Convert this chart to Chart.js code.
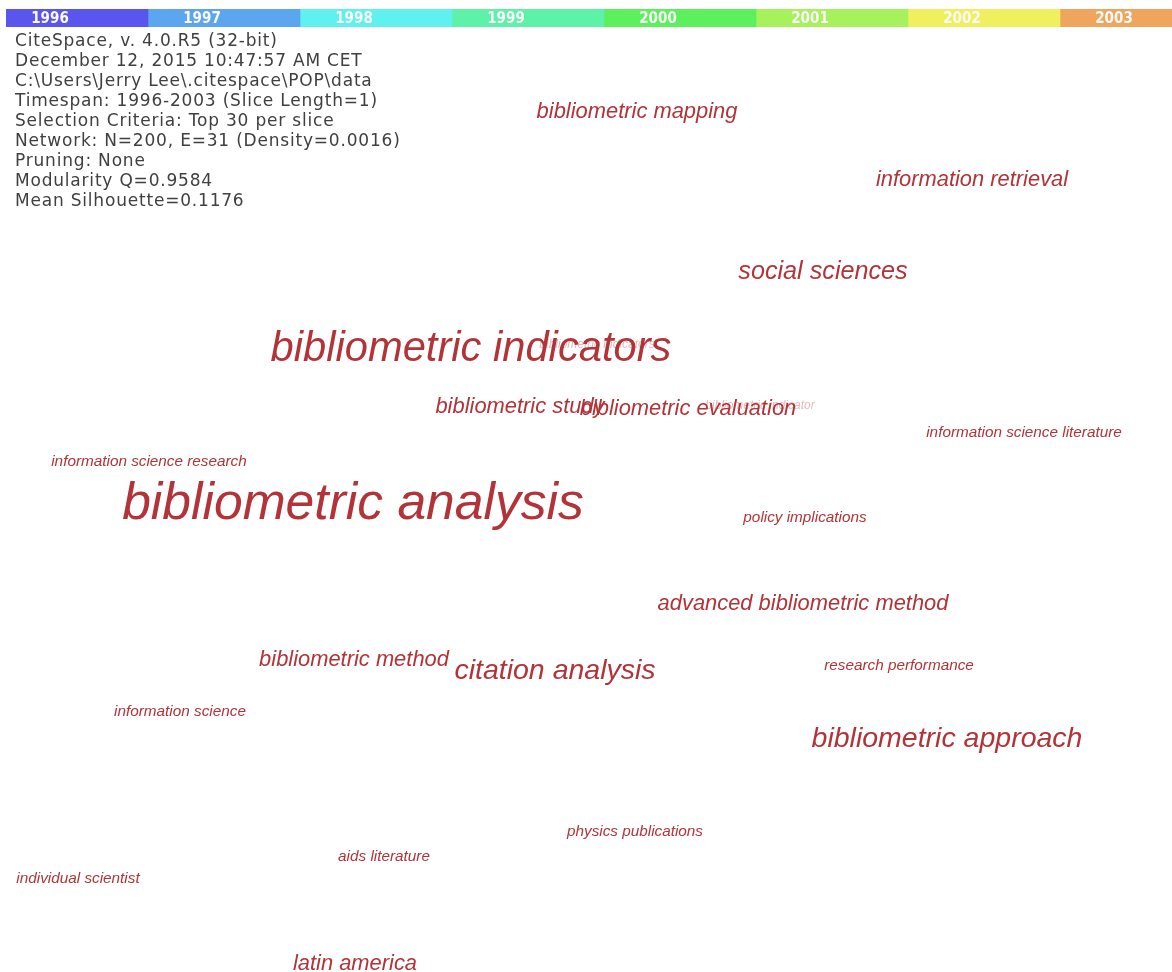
<!DOCTYPE html>
<html lang="en">

<head>
    <meta charset="UTF-8">
    <title>CiteSpace Label View</title>
    <script src="https://cdn.jsdelivr.net/npm/chart.js"></script>
    <style>
        body { margin: 0; background: #fff; }
        #wrap { position: relative; width: 1172px; height: 972px; overflow: hidden; }
        #main { position: absolute; left: 0; top: 0; }
        #years { position: absolute; left: 6px; top: 9px; }
        #info {
            position: absolute; left: 15px; top: 30px;
            font: 17px "DejaVu Sans", sans-serif; line-height: 20px;
            letter-spacing: 0.8px;
            color: #404040; white-space: pre;
        }
    </style>
</head>

<body>
    <div id="wrap">
        <canvas id="main" width="1172" height="972"></canvas>
        <canvas id="years" width="1166" height="18"></canvas>
        <div id="info"></div>
    </div>

    <script>
        // time slices shown in the top strip
        const years = ['1996', '1997', '1998', '1999', '2000', '2001', '2002', '2003'];
        const yearColors = ['#5b55ef', '#5ba6ef', '#5ef1ef', '#5ef1a8', '#5cf15c', '#a6f15c', '#f0f05e', '#f0a55c'];

        const infoLines = [
            'CiteSpace, v. 4.0.R5 (32-bit)',
            'December 12, 2015 10:47:57 AM CET',
            'C:\\Users\\Jerry Lee\\.citespace\\POP\\data',
            'Timespan: 1996-2003 (Slice Length=1)',
            'Selection Criteria: Top 30 per slice',
            'Network: N=200, E=31 (Density=0.0016)',
            'Pruning: None',
            'Modularity Q=0.9584',
            'Mean Silhouette=0.1176'
        ];

        // cluster labels, layout coordinates (x, baseline y) and term frequency
        const terms = [
            'bibliometric analysis', 'bibliometric indicators', 'social sciences', 'bibliometric mapping',
            'information retrieval', 'bibliometric study', 'bibliometric evaluation',
            'information science literature', 'information science research', 'policy implications',
            'advanced bibliometric method', 'bibliometric method', 'citation analysis',
            'research performance', 'information science', 'bibliometric approach',
            'physics publications', 'aids literature', 'individual scientist', 'latin america',
            'bibliometric indicators', 'bibliometric indicator'
        ];
        const termX = [353, 471, 823, 637, 972, 520, 688, 1024, 149, 805, 803, 354, 555, 899, 180, 947, 635, 384, 78, 355, 597, 760];
        const termY = [519, 361, 279, 118, 186, 413, 415, 437, 466, 522, 610, 666, 679, 670, 716, 747, 836, 861, 883, 970, 348, 409];
        const termFreq = [12, 9, 4, 3, 3, 3, 3, 1, 1, 1, 3, 3, 5, 1, 1, 5, 1, 1, 1, 3, 0, 0];

        document.getElementById('info').textContent = infoLines.join('\n');

        const labelColor = 'rgb(178, 52, 56)';
        const fontFor = f => 12 + 3.3 * f;

        const termLabels = {
            id: 'termLabels',
            afterDatasetsDraw(chart) {
                const ctx = chart.ctx;
                const meta = chart.getDatasetMeta(0);
                ctx.save();
                ctx.textAlign = 'center';
                ctx.textBaseline = 'alphabetic';
                meta.data.forEach((pt, i) => {
                    const f = termFreq[i];
                    ctx.globalAlpha = f === 0 ? 0.35 : 1;
                    ctx.fillStyle = labelColor;
                    ctx.font = 'italic ' + fontFor(f).toFixed(1) + 'px "Liberation Sans", Arial, sans-serif';
                    ctx.fillText(terms[i], pt.x, pt.y);
                });
                ctx.restore();
            }
        };

        new Chart(document.getElementById('main'), {
            type: 'scatter',
            data: {
                datasets: [{
                    data: terms.map((t, i) => ({ x: termX[i], y: termY[i] })),
                    pointRadius: 0,
                    pointHoverRadius: 0
                }]
            },
            options: {
                responsive: false,
                animation: false,
                layout: { padding: 0 },
                plugins: { legend: { display: false }, tooltip: { enabled: false } },
                scales: {
                    x: { type: 'linear', min: 0, max: 1172, display: false },
                    y: { type: 'linear', min: 0, max: 972, reverse: true, display: false }
                }
            },
            plugins: [termLabels]
        });

        // year strip: one stacked segment per slice
        const sliceStart = 10 / 152;
        const yearText = {
            id: 'yearText',
            afterDatasetsDraw(chart) {
                const ctx = chart.ctx;
                const xs = chart.scales.x;
                ctx.save();
                ctx.font = 'bold 15px "DejaVu Sans Condensed", "DejaVu Sans", sans-serif';
                ctx.fillStyle = '#fafafa';
                ctx.textAlign = 'center';
                ctx.textBaseline = 'middle';
                years.forEach((y, i) => {
                    ctx.fillText(y, xs.getPixelForValue(i + 54 / 152), chart.chartArea.top + 10);
                });
                ctx.restore();
            }
        };

        new Chart(document.getElementById('years'), {
            type: 'bar',
            data: {
                labels: ['slices'],
                datasets: years.map((y, i) => ({
                    label: y,
                    data: [1],
                    backgroundColor: yearColors[i],
                    borderWidth: 0,
                    barPercentage: 1,
                    categoryPercentage: 1
                }))
            },
            options: {
                indexAxis: 'y',
                responsive: false,
                animation: false,
                layout: { padding: 0 },
                plugins: { legend: { display: false }, tooltip: { enabled: false } },
                scales: {
                    x: { stacked: true, min: sliceStart, max: sliceStart + 1166 / 152, display: false },
                    y: { stacked: true, display: false }
                }
            },
            plugins: [yearText]
        });
    </script>
</body>

</html>
